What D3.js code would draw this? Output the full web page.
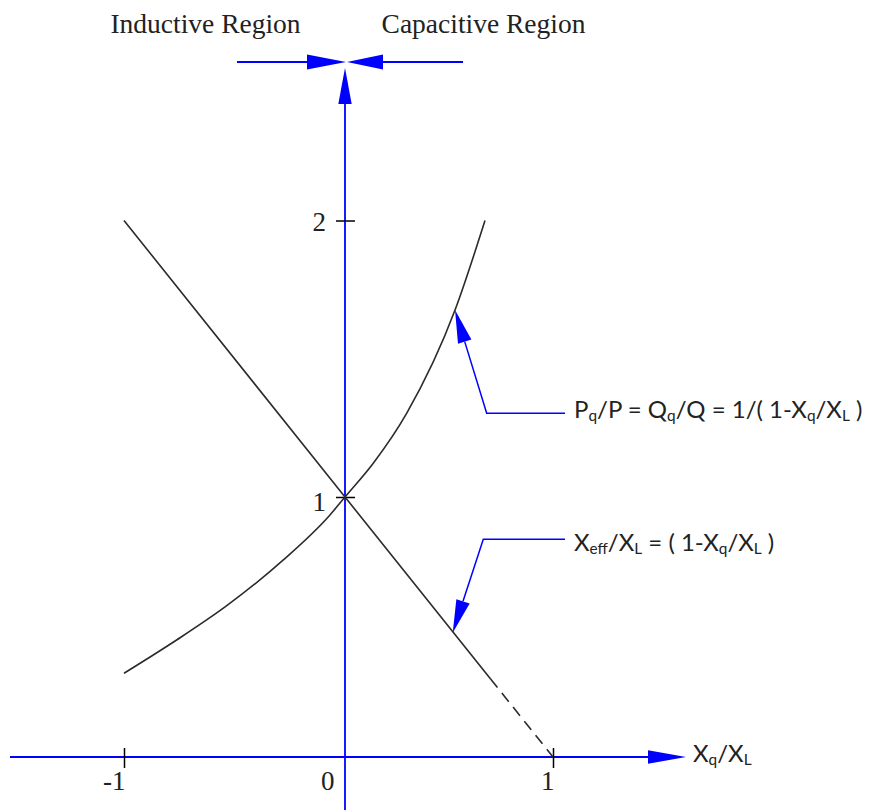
<!DOCTYPE html>
<html>
<head>
<meta charset="utf-8">
<script src="https://cdn.jsdelivr.net/npm/d3@7"></script>
<style>
  html, body { margin: 0; padding: 0; background: #fff; }
  svg { display: block; }
</style>
</head>
<body>
<svg id="chart" width="869" height="810"></svg>
<script>
// Tick values on both axes
const xTicks = [-1, 0, 1];
const yTicks = [1, 2];
const regionLabels = ["Inductive Region", "Capacitive Region"];

// Pq/P = Qq/Q = 1/(1 - Xq/XL), sampled along the curve
const powerRatioX = [-1.0, -0.762, -0.535, -0.279, -0.068, 0, 0.136, 0.297, 0.529, 0.673];
const powerRatioY = [0.322, 0.45, 0.582, 0.758, 0.931, 1, 1.122, 1.303, 1.676, 2.0];

// Xeff/XL = 1 - Xq/XL : solid part and dashed continuation to the axis
const reactanceX = [-1, 0, 0.7];
const reactanceY = [2, 1, 0.3];
const reactanceDashX = [0.7, 1];
const reactanceDashY = [0.3, 0];

// Points the two callouts point at (data coordinates)
const calloutTipX = [0.529, 0.518];
const calloutTipY = [1.676, 0.478];

const svg = d3.select("#chart");
const BLUE = "#0000ff";
const INK = "#2b2b2b";
const SERIF = "'Liberation Serif', 'Times New Roman', serif";
const SANS = "Lato, 'Open Sans', sans-serif";

const x = d3.scaleLinear().domain([-1, 0, 1]).range([124, 345, 553]);
const y = d3.scaleLinear().domain([0, 1, 2]).range([757, 497, 220.5]);

// Filled triangular arrowhead with its point at (tx, ty), pointing along angle a
function arrowHead(g, tx, ty, a, len, half) {
  const bx = tx - len * Math.cos(a), by = ty - len * Math.sin(a);
  const nx = -Math.sin(a) * half, ny = Math.cos(a) * half;
  g.append("path")
    .attr("d", `M${tx},${ty}L${bx + nx},${by + ny}L${bx - nx},${by - ny}Z`)
    .attr("fill", BLUE);
  return [bx, by];
}

// Text with subscript runs
function richText(g, px, py, parts, size) {
  const t = g.append("text")
    .attr("x", px).attr("y", py)
    .style("font-family", SANS).style("font-size", size + "px")
    .attr("fill", "#222");
  const shift = size * 0.13;
  let down = false;
  parts.forEach(p => {
    const ts = t.append("tspan").text(p[0]);
    if (p[1] && !down) { ts.attr("dy", shift); down = true; }
    else if (!p[1] && down) { ts.attr("dy", -shift); down = false; }
    if (p[1]) ts.style("font-size", (size * 0.64) + "px");
  });
  return t;
}

const axes = svg.append("g");
const x0 = x(0), y0 = y(0);

// X axis with arrow
const xTip = 686;
const [xBase] = arrowHead(axes, xTip, y0, 0, 38, 6.7);
axes.append("line").attr("x1", 10).attr("x2", xBase).attr("y1", y0).attr("y2", y0)
  .attr("stroke", BLUE).attr("stroke-width", 1.8);

// Y axis with arrow
const yTip = 68;
const [, yBase] = arrowHead(axes, x0, yTip, -Math.PI / 2, 36, 6.7);
axes.append("line").attr("x1", x0).attr("x2", x0).attr("y1", 810).attr("y2", yBase)
  .attr("stroke", BLUE).attr("stroke-width", 1.8);

// Region arrows meeting above the Y axis
const topY = 62;
const [lb] = arrowHead(axes, x0 + 1, topY, 0, 39, 7.5);
axes.append("line").attr("x1", 237).attr("x2", lb).attr("y1", topY).attr("y2", topY)
  .attr("stroke", BLUE).attr("stroke-width", 1.8);
const [rb] = arrowHead(axes, x0 + 2, topY, Math.PI, 36, 7.5);
axes.append("line").attr("x1", rb).attr("x2", 463).attr("y1", topY).attr("y2", topY)
  .attr("stroke", BLUE).attr("stroke-width", 1.8);

svg.selectAll("text.region").data(regionLabels).join("text")
  .attr("class", "region")
  .attr("x", (d, i) => i === 0 ? 205.5 : 483.5)
  .attr("y", 33)
  .attr("text-anchor", "middle")
  .style("font-family", SERIF).style("font-size", "27.5px")
  .attr("fill", "#222")
  .text(d => d);

const plainNumber = d => String(d);

// X ticks via d3 axis, restyled to cross the axis line
const xAxis = svg.append("g").attr("transform", `translate(0,${y0})`)
  .call(d3.axisBottom(x).tickValues(xTicks).tickFormat(plainNumber).tickSize(0).tickPadding(0));
xAxis.select(".domain").remove();
xAxis.selectAll(".tick line")
  .attr("y1", d => d === 0 ? 0 : -9).attr("y2", d => d === 0 ? 0 : 11)
  .attr("stroke", "#000").attr("stroke-width", 1.5);
xAxis.selectAll(".tick text")
  .attr("text-anchor", "end")
  .attr("x", d => d === 0 ? -11 : 1)
  .attr("y", 33).attr("dy", 0)
  .style("font-family", SERIF).style("font-size", "27px")
  .attr("fill", "#222");

// Y ticks
const yAxis = svg.append("g").attr("transform", `translate(${x0},0)`)
  .call(d3.axisLeft(y).tickValues(yTicks).tickFormat(plainNumber).tickSize(0).tickPadding(0));
yAxis.select(".domain").remove();
yAxis.selectAll(".tick line")
  .attr("x1", -9).attr("x2", 10)
  .attr("stroke", "#000").attr("stroke-width", 1.5);
yAxis.selectAll(".tick text")
  .attr("text-anchor", "end")
  .attr("x", -19).attr("dy", d => d === 1 ? 13 : 10)
  .style("font-family", SERIF).style("font-size", "27px")
  .attr("fill", "#222");

// Curves
const smooth = d3.line().x(d => x(d[0])).y(d => y(d[1])).curve(d3.curveMonotoneX);
const powerPts = powerRatioX.map((v, i) => [v, powerRatioY[i]]);
svg.append("path").attr("d", smooth(powerPts))
  .attr("fill", "none").attr("stroke", INK).attr("stroke-width", 1.6);

const straight = d3.line().x(d => x(d[0])).y(d => y(d[1]));
svg.append("path").attr("d", straight(reactanceX.map((v, i) => [v, reactanceY[i]])))
  .attr("fill", "none").attr("stroke", INK).attr("stroke-width", 1.6);
svg.append("path").attr("d", straight(reactanceDashX.map((v, i) => [v, reactanceDashY[i]])))
  .attr("fill", "none").attr("stroke", INK).attr("stroke-width", 1.6)
  .attr("stroke-dasharray", "11,7");

// Callouts
const callouts = svg.append("g");
const elbows = [[486.7, 413.3], [483.3, 539.3]];
const labelParts = [
  [["P"], ["q", 1], ["/P = Q"], ["q", 1], ["/Q = 1/( 1-X"], ["q", 1], ["/X"], ["L", 1], [" )"]],
  [["X"], ["eff", 1], ["/X"], ["L", 1], [" = ( 1-X"], ["q", 1], ["/X"], ["L", 1], [" )"]]
];
const labelBase = [418, 550.5];
calloutTipX.forEach((tx, i) => {
  const px = x(tx), py = y(calloutTipY[i]);
  const [ex, ey] = elbows[i];
  const a = Math.atan2(py - ey, px - ex);
  const [bx, by] = arrowHead(callouts, px, py, a, 33, 7);
  callouts.append("polyline")
    .attr("points", `${bx},${by} ${ex},${ey} 565,${ey}`)
    .attr("fill", "none").attr("stroke", BLUE).attr("stroke-width", 1.5);
  richText(callouts, 574, labelBase[i], labelParts[i], 24);
});

// Axis title
richText(svg, 693, 762, [["X"], ["q", 1], ["/X"], ["L", 1]], 24);
</script>
</body>
</html>
